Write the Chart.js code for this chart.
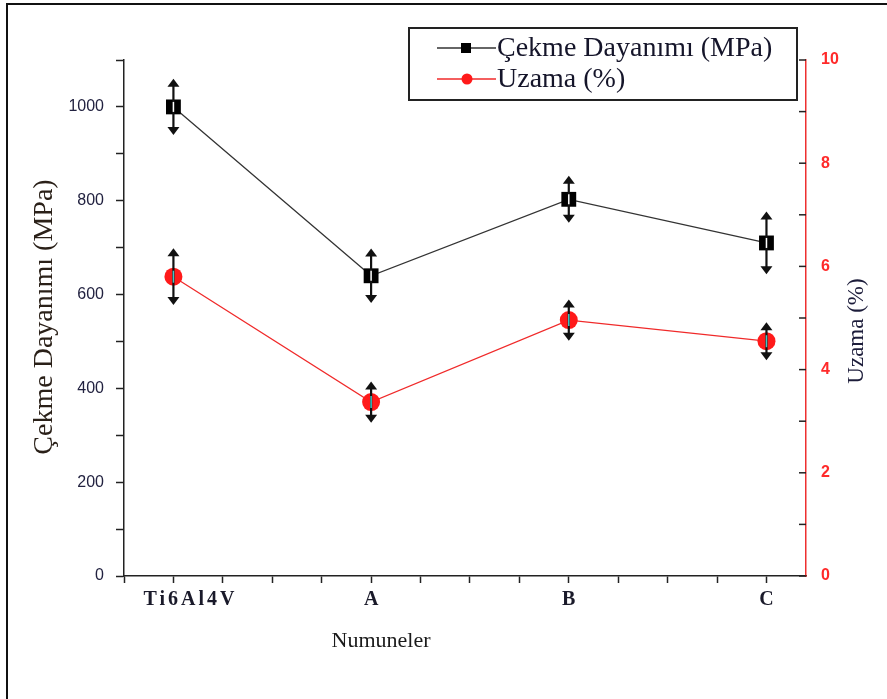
<!DOCTYPE html>
<html>
<head>
<meta charset="utf-8">
<script src="https://cdn.jsdelivr.net/npm/chart.js@4.4.0/dist/chart.umd.min.js"></script>
<style>
  body { margin: 0; background: #fff; }
  #wrap { position: relative; width: 887px; height: 699px; }
  #frame { position: absolute; left: 6px; top: 3px; width: 890px; height: 720px;
           border-left: 2px solid #111; border-top: 2px solid #111; pointer-events: none; }
</style>
</head>
<body>
<div id="wrap">
<canvas id="myChart" width="887" height="699"></canvas>
<div id="frame"></div>
</div>
<script>
numuneler = ["Ti6Al4V", "A", "B", "C"]

cekme = [1000, 640, 803, 710]
cekmeErr = [60, 58, 50, 67]

uzama = [5.8, 3.37, 4.96, 4.55]
uzamaErr = [0.55, 0.4, 0.4, 0.37]

leftTicks = [0, 200, 400, 600, 800, 1000]
rightTicks = [0, 2, 4, 6, 8, 10]

// error bars, legend, titles, category labels
const extras = {
    id: 'extras',
    afterDatasetsDraw(chart) {
        const ctx = chart.ctx
        const x = chart.scales.x
        const sets = [
            { vals: cekme, err: cekmeErr, scale: chart.scales.y, inner: '#ffffff', r: 7 },
            { vals: uzama, err: uzamaErr, scale: chart.scales.y1, inner: '#40c8c8', r: 8 }
        ]
        ctx.save()
        sets.forEach((s) => {
            s.vals.forEach((v, i) => {
                const px = x.getPixelForValue(i)
                const top = s.scale.getPixelForValue(v + s.err[i])
                const bot = s.scale.getPixelForValue(v - s.err[i])
                const py = s.scale.getPixelForValue(v)
                ctx.strokeStyle = '#111'
                ctx.lineWidth = 2.2
                ctx.beginPath()
                ctx.moveTo(px, top + 3)
                ctx.lineTo(px, bot - 3)
                ctx.stroke()
                ctx.fillStyle = '#111'
                ctx.beginPath()
                ctx.moveTo(px, top); ctx.lineTo(px - 6, top + 8); ctx.lineTo(px + 6, top + 8)
                ctx.fill()
                ctx.beginPath()
                ctx.moveTo(px, bot); ctx.lineTo(px - 6, bot - 8); ctx.lineTo(px + 6, bot - 8)
                ctx.fill()
                ctx.strokeStyle = s.inner
                ctx.lineWidth = 1.5
                ctx.beginPath()
                ctx.moveTo(px, py - s.r + 2)
                ctx.lineTo(px, py + s.r - 2)
                ctx.stroke()
            })
        })
        ctx.restore()
    },
    afterDraw(chart) {
        const ctx = chart.ctx
        const x = chart.scales.x
        const y1 = chart.scales.y1
        const area = chart.chartArea
        ctx.save()
        // right axis ticks point inward
        ctx.strokeStyle = '#222'
        ctx.lineWidth = 1.5
        for (let v = 0; v <= 10; v++) {
            const py = y1.getPixelForValue(v)
            ctx.beginPath()
            ctx.moveTo(area.right - 7, py)
            ctx.lineTo(area.right, py)
            ctx.stroke()
        }

        // category labels
        ctx.fillStyle = '#1a1a2a'
        ctx.font = 'bold 20px "Liberation Serif", serif'
        ctx.textAlign = 'center'
        ctx.textBaseline = 'middle'
        numuneler.forEach((n, i) => {
            ctx.letterSpacing = n.length > 1 ? '3px' : '0px'
            const shift = n.length > 1 ? 17 : 0
            ctx.fillText(n, x.getPixelForValue(i) + shift, 600)
        })
        ctx.letterSpacing = '0px'

        // axis titles
        ctx.fillStyle = '#2a2018'
        ctx.font = '28px "Liberation Serif", serif'
        ctx.save()
        ctx.translate(45, 317)
        ctx.rotate(-Math.PI / 2)
        ctx.fillText('Çekme Dayanımı (MPa)', 0, 0)
        ctx.restore()
        ctx.fillStyle = '#1c1c3a'
        ctx.font = '23px "Liberation Serif", serif'
        ctx.save()
        ctx.translate(857, 331)
        ctx.rotate(-Math.PI / 2)
        ctx.fillText('Uzama (%)', 0, 0)
        ctx.restore()
        ctx.fillStyle = '#1a1a1a'
        ctx.font = '22px "Liberation Serif", serif'
        ctx.fillText('Numuneler', 381, 641)

        // legend box
        ctx.strokeStyle = '#222'
        ctx.lineWidth = 2
        ctx.strokeRect(409, 28, 388, 72)
        const ds = chart.data.datasets
        const rows = [48, 79]
        ds.forEach((d, i) => {
            const ly = rows[i]
            ctx.strokeStyle = d.borderColor
            ctx.lineWidth = 1.5
            ctx.beginPath()
            ctx.moveTo(437, ly); ctx.lineTo(496, ly)
            ctx.stroke()
            ctx.fillStyle = d.backgroundColor
            if (i == 0) {
                ctx.fillRect(461, ly - 5, 10, 10)
            } else {
                ctx.beginPath()
                ctx.arc(467, ly, 5.5, 0, Math.PI * 2)
                ctx.fill()
            }
            ctx.fillStyle = '#15152a'
            ctx.font = '28px "Liberation Serif", serif'
            ctx.textAlign = 'left'
            ctx.fillText(d.label, 497, ly + 1)
        })
        ctx.restore()
    }
}

function makeGraph() {
    const ctx = document.getElementById('myChart')
    new Chart(ctx, {
        type: 'line',
        data: {
            datasets: [
                {
                    label: 'Çekme Dayanımı (MPa)',
                    data: cekme.map((v, i) => ({ x: i, y: v })),
                    yAxisID: 'y',
                    borderColor: '#333333',
                    backgroundColor: '#000000',
                    borderWidth: 1.3,
                    pointStyle: 'rect',
                    pointRadius: 10.5,
                    pointBorderWidth: 0,
                    tension: 0
                },
                {
                    label: 'Uzama (%)',
                    data: uzama.map((v, i) => ({ x: i, y: v })),
                    yAxisID: 'y1',
                    borderColor: '#f02a2a',
                    backgroundColor: '#ff1a1a',
                    borderWidth: 1.3,
                    pointStyle: 'circle',
                    pointRadius: 9,
                    pointBorderWidth: 0,
                    tension: 0
                }
            ]
        },
        options: {
            responsive: false,
            animation: false,
            layout: { padding: { top: 60, left: 0, right: 0, bottom: 0 } },
            plugins: {
                legend: { display: false },
                tooltip: { enabled: false }
            },
            scales: {
                x: {
                    type: 'linear',
                    min: -0.25,
                    max: 3.2,
                    afterFit: (s) => { s.height = 123 },
                    grid: { drawOnChartArea: false, tickLength: 7, tickColor: '#222', tickWidth: 1.5 },
                    border: { color: '#222', width: 1.5 },
                    ticks: {
                        stepSize: 0.25,
                        includeBounds: false,
                        autoSkip: false,
                        maxRotation: 0,
                        padding: 6,
                        callback: () => ''
                    }
                },
                y: {
                    position: 'left',
                    min: 0,
                    max: 1100,
                    afterFit: (s) => { s.width = 124 },
                    grid: { drawOnChartArea: false, tickLength: 8, tickColor: '#222', tickWidth: 1.5 },
                    border: { color: '#222', width: 1.5 },
                    ticks: {
                        stepSize: 100,
                        padding: 12,
                        color: '#222240',
                        font: { family: '"Liberation Sans", Arial, sans-serif', size: 16 },
                        callback: (v) => leftTicks.includes(v) ? v : ''
                    }
                },
                y1: {
                    position: 'right',
                    min: 0,
                    max: 10,
                    afterFit: (s) => { s.width = 81 },
                    grid: { drawOnChartArea: false, drawTicks: false },
                    border: { color: '#ee3030', width: 1.5 },
                    ticks: {
                        stepSize: 1,
                        padding: 15,
                        color: '#ff2a2a',
                        font: { family: '"Liberation Sans", Arial, sans-serif', size: 16, weight: 'bold' },
                        callback: (v) => rightTicks.includes(v) ? v : ''
                    }
                }
            }
        },
        plugins: [extras]
    })
}

makeGraph()
</script>
</body>
</html>
